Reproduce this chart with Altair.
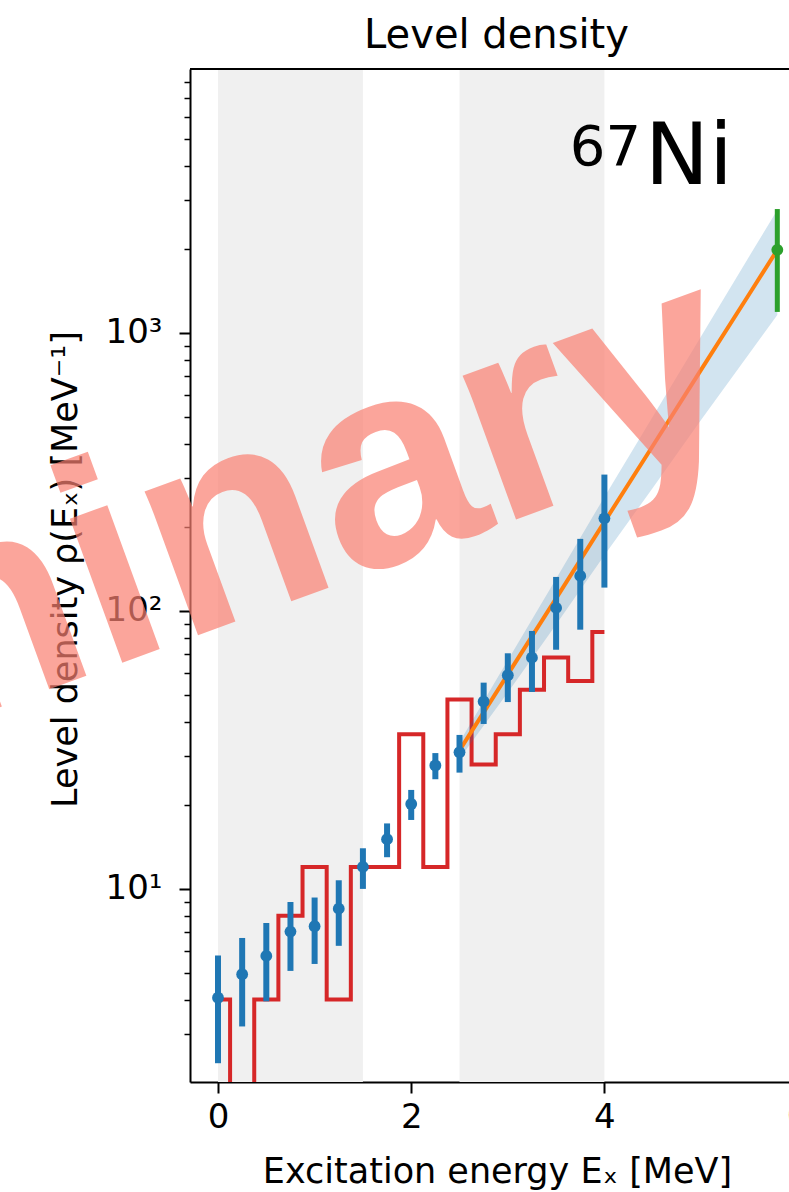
import altair as alt
import pandas as pd

# ---------------- data ----------------
E = [0.0, 0.25, 0.5, 0.75, 1.0, 1.25, 1.5, 1.75, 2.0, 2.25, 2.5, 2.75, 3.0, 3.25, 3.5, 3.75, 4.0]
rho = [4.06, 4.93, 5.74, 7.02, 7.34, 8.49, 12.0, 15.1, 20.2, 27.8, 31.0, 47.2, 58.7, 67.9, 102.5, 133.6, 215.3]
rho_err = [1.7, 1.73, 1.8, 1.95, 1.97, 2.25, 2.0, 2.1, 2.5, 3.0, 4.8, 8.0, 11.7, 16.8, 30.0, 48.0, 94.0]
discrete = [4, 0, 4, 8, 12, 4, 12, 12, 36, 12, 48, 28, 36, 52, 68, 56, 84]

fit_E = [2.5, 3.0, 3.5, 4.0, 4.5, 5.0, 5.5, 5.79]
fit_rho = [31.5, 59.1, 111.0, 209.0, 392.0, 736.0, 1380.0, 1990.0]
band_lo = [29.4, 50.9, 89.3, 158.5, 277.0, 486.0, 843.0, 1161.0]
band_hi = [33.7, 66.4, 130.6, 257.0, 499.0, 970.0, 1888.0, 2767.0]

sn_E = [5.79]
sn_rho = [1990.0]
sn_err = [800.0]

region_lo = [0.0, 2.5]
region_hi = [1.5, 4.0]

x_ticks = [0, 2, 4]
x_cut_tick = [6]
y_major = [10, 100, 1000]
y_minor = [2, 3, 4, 5, 6, 7, 8, 9, 20, 30, 40, 50, 60, 70, 80, 90,
           200, 300, 400, 500, 600, 700, 800, 900, 2000, 3000, 4000, 5000, 6000, 7000, 8000]

# ---------------- tables ----------------
pts = pd.DataFrame({"E": E, "rho": rho,
                    "lo": [r - e for r, e in zip(rho, rho_err)],
                    "hi": [r + e for r, e in zip(rho, rho_err)]})
disc = pd.DataFrame({"E": E, "rho": [max(v, 0.05) for v in discrete]})
fit = pd.DataFrame({"E": fit_E, "rho": fit_rho, "lo": band_lo, "hi": band_hi})
sn = pd.DataFrame({"E": sn_E, "rho": sn_rho,
                   "lo": [r - e for r, e in zip(sn_rho, sn_err)],
                   "hi": [r + e for r, e in zip(sn_rho, sn_err)]})
regions = pd.DataFrame({"a": region_lo, "b": region_hi})
mark_wm = pd.DataFrame({"E": [5.555], "rho": [438.0], "t": ["Preliminary"]})
mark_ni = pd.DataFrame({"E": [5.33], "rho": [3436.0], "t": ["Ni"]})
mark_a = pd.DataFrame({"E": [4.38], "rho": [4018.0], "t": ["67"]})
cut_lab = pd.DataFrame({"E": x_cut_tick, "t": [str(v) for v in x_cut_tick]})

W, H = 599, 1013
FONT = "DejaVu Sans"

XS = alt.Scale(domain=[-0.29, 5.911], nice=False, zero=False)
YS = alt.Scale(type="log", domain=[2.02, 8900], nice=False)

major_test = "datum.value == 10 || datum.value == 100 || datum.value == 1000"

x_axis = alt.Axis(values=x_ticks, title="Excitation energy Eₓ [MeV]", grid=False,
                  labelFontSize=34, titleFontSize=35, titleFontWeight="normal",
                  tickSize=11, tickWidth=2, domainWidth=2, domainColor="black",
                  tickColor="black", labelColor="black", titleColor="black",
                  labelPadding=7, titlePadding=20, titleX=307, labelFlush=False,
                  labelFont=FONT, titleFont=FONT)
y_axis = alt.Axis(values=sorted(y_minor + y_major),
                  labelExpr="datum.value == 10 ? '10¹' : datum.value == 100 ? '10²' : datum.value == 1000 ? '10³' : ''",
                  title="Level density ρ(Eₓ) [MeV⁻¹]", grid=False,
                  labelFontSize=34, titleFontSize=35, titleFontWeight="normal",
                  tickSize={"condition": {"test": major_test, "value": 11}, "value": 6},
                  tickWidth={"condition": {"test": major_test, "value": 2}, "value": 1.5},
                  domainWidth=2, domainColor="black", tickColor="black",
                  labelColor="black", titleColor="black", labelPadding=17,
                  titlePadding=22, titleY=500, labelFont=FONT, titleFont=FONT)


def X(field="E"):
    return alt.X(f"{field}:Q", scale=XS, axis=x_axis)


def Y(field="rho"):
    return alt.Y(f"{field}:Q", scale=YS, axis=y_axis)


gray = alt.Chart(regions).mark_rect(color="#f0f0f0").encode(
    x=alt.X("a:Q", scale=XS, axis=x_axis), x2="b:Q")

hist = alt.Chart(disc).mark_line(color="#d62728", strokeWidth=4, interpolate="step",
                                 clip=True).encode(x=X(), y=Y())

band = alt.Chart(fit).mark_area(color="#1f77b4", opacity=0.2, clip=True).encode(
    x=X(), y=Y("lo"), y2="hi:Q")

line = alt.Chart(fit).mark_line(color="#ff7f0e", strokeWidth=4, clip=True).encode(
    x=X(), y=Y())

ebar = alt.Chart(pts).mark_rule(color="#1f77b4", strokeWidth=6, clip=True).encode(
    x=X(), y=Y("lo"), y2="hi:Q")
dots = alt.Chart(pts).mark_circle(color="#1f77b4", size=140, opacity=1, clip=True).encode(
    x=X(), y=Y())

sbar = alt.Chart(sn).mark_rule(color="#2ca02c", strokeWidth=5, clip=True).encode(
    x=X(), y=Y("lo"), y2="hi:Q")
sdot = alt.Chart(sn).mark_circle(color="#2ca02c", size=140, opacity=1, clip=True).encode(
    x=X(), y=Y())

top_spine = alt.Chart(regions).mark_rule(color="black", strokeWidth=2).encode(
    x=alt.value(0), x2=alt.value(W), y=alt.value(0))

cut_tick_label = alt.Chart(cut_lab).mark_text(font=FONT, fontSize=34, color="black",
                                              align="center", baseline="top").encode(
    x=X(), y=alt.value(H + 11 + 7), text="t:N")

wm = alt.Chart(mark_wm).mark_text(font="Liberation Sans", fontWeight="bold", fontSize=290,
                                  color="salmon", opacity=0.7, angle=340,
                                  align="right", baseline="alphabetic").encode(
    x=X(), y=Y(), text="t:N")

ni = alt.Chart(mark_ni).mark_text(font=FONT, fontSize=86, color="black",
                                  align="right", baseline="alphabetic").encode(
    x=X(), y=Y(), text="t:N")
iso = alt.Chart(mark_a).mark_text(font=FONT, fontSize=56, color="black",
                                  align="right", baseline="alphabetic").encode(
    x=X(), y=Y(), text="t:N")

chart = alt.layer(gray, hist, band, line, ebar, dots, sbar, sdot, top_spine,
                  cut_tick_label, ni, iso, wm).properties(
    width=W, height=H,
    title=alt.Title("Level density", fontSize=40, fontWeight="normal", font=FONT,
                    color="black", offset=12, dx=7),
    autosize=alt.AutoSizeParams(type="none"),
    padding={"left": 190, "top": 69, "right": 0, "bottom": 110},
).configure_view(stroke=None).configure(background="white")

chart.save("out.html", embed_options={"renderer": "svg", "actions": False})
